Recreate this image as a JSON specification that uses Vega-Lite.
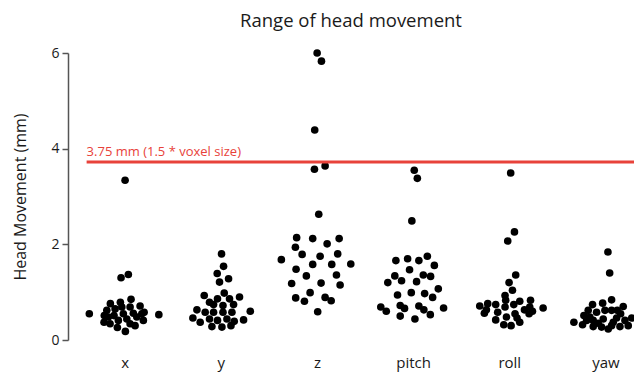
{
  "$schema": "https://vega.github.io/schema/vega-lite/v6.json",
  "autosize": "none",
  "padding": {"left": 68, "top": 53, "right": 0, "bottom": 36},
  "width": 566,
  "height": 287,
  "background": "white",
  "config": {
    "view": {"stroke": null},
    "font": "Open Sans",
    "axis": {"grid": false, "labelFont": "Open Sans", "titleFont": "Open Sans"}
  },
  "title": {
    "text": "Range of head movement",
    "fontSize": 18.5,
    "font": "Open Sans",
    "fontWeight": "normal",
    "color": "#1a1a1a",
    "anchor": "middle",
    "offset": 16
  },
  "datasets": {
    "threshold": [
      {"value": 3.72, "label": "3.75 mm (1.5 * voxel size)", "from": "x", "to": "yaw"}
    ],
    "points": [
      {"axis": "x", "value": 3.34, "dx": 0.0},
      {"axis": "x", "value": 1.37, "dx": 0.034},
      {"axis": "x", "value": 1.30, "dx": -0.042},
      {"axis": "x", "value": 0.55, "dx": -0.372},
      {"axis": "x", "value": 0.53, "dx": 0.351},
      {"axis": "x", "value": 0.76, "dx": -0.153},
      {"axis": "x", "value": 0.79, "dx": -0.049},
      {"axis": "x", "value": 0.85, "dx": 0.062},
      {"axis": "x", "value": 0.71, "dx": 0.156},
      {"axis": "x", "value": 0.62, "dx": -0.19},
      {"axis": "x", "value": 0.69, "dx": -0.034},
      {"axis": "x", "value": 0.69, "dx": 0.052},
      {"axis": "x", "value": 0.58, "dx": 0.198},
      {"axis": "x", "value": 0.51, "dx": -0.216},
      {"axis": "x", "value": 0.51, "dx": -0.115},
      {"axis": "x", "value": 0.55, "dx": -0.018},
      {"axis": "x", "value": 0.56, "dx": 0.086},
      {"axis": "x", "value": 0.55, "dx": 0.174},
      {"axis": "x", "value": 0.37, "dx": -0.219},
      {"axis": "x", "value": 0.34, "dx": -0.156},
      {"axis": "x", "value": 0.41, "dx": -0.07},
      {"axis": "x", "value": 0.44, "dx": 0.018},
      {"axis": "x", "value": 0.30, "dx": 0.104},
      {"axis": "x", "value": 0.41, "dx": 0.19},
      {"axis": "x", "value": 0.26, "dx": -0.08},
      {"axis": "x", "value": 0.18, "dx": 0.003},
      {"axis": "x", "value": 0.34, "dx": 0.052},
      {"axis": "x", "value": 0.48, "dx": -0.174},
      {"axis": "x", "value": 0.48, "dx": 0.122},
      {"axis": "x", "value": 0.65, "dx": -0.104},

      {"axis": "y", "value": 1.80, "dx": 0.003},
      {"axis": "y", "value": 1.54, "dx": 0.024},
      {"axis": "y", "value": 1.39, "dx": -0.042},
      {"axis": "y", "value": 1.28, "dx": 0.076},
      {"axis": "y", "value": 1.21, "dx": -0.018},
      {"axis": "y", "value": 0.93, "dx": -0.177},
      {"axis": "y", "value": 0.98, "dx": 0.031},
      {"axis": "y", "value": 0.90, "dx": 0.19},
      {"axis": "y", "value": 0.79, "dx": -0.122},
      {"axis": "y", "value": 0.86, "dx": -0.039},
      {"axis": "y", "value": 0.86, "dx": 0.086},
      {"axis": "y", "value": 0.74, "dx": 0.128},
      {"axis": "y", "value": 0.74, "dx": -0.08},
      {"axis": "y", "value": 0.72, "dx": 0.018},
      {"axis": "y", "value": 0.63, "dx": -0.253},
      {"axis": "y", "value": 0.58, "dx": -0.167},
      {"axis": "y", "value": 0.58, "dx": -0.08},
      {"axis": "y", "value": 0.58, "dx": 0.018},
      {"axis": "y", "value": 0.58, "dx": 0.111},
      {"axis": "y", "value": 0.60, "dx": 0.302},
      {"axis": "y", "value": 0.46, "dx": -0.295},
      {"axis": "y", "value": 0.37, "dx": -0.219},
      {"axis": "y", "value": 0.44, "dx": -0.122},
      {"axis": "y", "value": 0.41, "dx": -0.039},
      {"axis": "y", "value": 0.44, "dx": 0.059},
      {"axis": "y", "value": 0.39, "dx": 0.135},
      {"axis": "y", "value": 0.42, "dx": 0.232},
      {"axis": "y", "value": 0.28, "dx": -0.097},
      {"axis": "y", "value": 0.27, "dx": 0.007},
      {"axis": "y", "value": 0.30, "dx": 0.101},

      {"axis": "z", "value": 6.00, "dx": -0.003},
      {"axis": "z", "value": 5.83, "dx": 0.042},
      {"axis": "z", "value": 4.39, "dx": -0.028},
      {"axis": "z", "value": 3.64, "dx": 0.08},
      {"axis": "z", "value": 3.57, "dx": -0.031},
      {"axis": "z", "value": 2.63, "dx": 0.014},
      {"axis": "z", "value": 2.14, "dx": -0.216},
      {"axis": "z", "value": 2.12, "dx": -0.049},
      {"axis": "z", "value": 2.12, "dx": 0.226},
      {"axis": "z", "value": 2.01, "dx": 0.101},
      {"axis": "z", "value": 1.94, "dx": -0.229},
      {"axis": "z", "value": 1.79, "dx": -0.159},
      {"axis": "z", "value": 1.80, "dx": 0.211},
      {"axis": "z", "value": 1.75, "dx": 0.028},
      {"axis": "z", "value": 1.68, "dx": -0.375},
      {"axis": "z", "value": 1.58, "dx": -0.049},
      {"axis": "z", "value": 1.58, "dx": 0.149},
      {"axis": "z", "value": 1.59, "dx": 0.347},
      {"axis": "z", "value": 1.48, "dx": -0.222},
      {"axis": "z", "value": 1.34, "dx": -0.115},
      {"axis": "z", "value": 1.36, "dx": 0.198},
      {"axis": "z", "value": 1.18, "dx": -0.268},
      {"axis": "z", "value": 1.19, "dx": 0.038},
      {"axis": "z", "value": 1.15, "dx": 0.236},
      {"axis": "z", "value": 0.99, "dx": -0.076},
      {"axis": "z", "value": 0.88, "dx": -0.226},
      {"axis": "z", "value": 0.89, "dx": 0.08},
      {"axis": "z", "value": 0.81, "dx": -0.135},
      {"axis": "z", "value": 0.82, "dx": 0.143},
      {"axis": "z", "value": 0.59, "dx": 0.003},

      {"axis": "pitch", "value": 3.55, "dx": 0.007},
      {"axis": "pitch", "value": 3.38, "dx": 0.039},
      {"axis": "pitch", "value": 2.49, "dx": -0.018},
      {"axis": "pitch", "value": 1.66, "dx": -0.184},
      {"axis": "pitch", "value": 1.70, "dx": -0.062},
      {"axis": "pitch", "value": 1.66, "dx": 0.055},
      {"axis": "pitch", "value": 1.75, "dx": 0.143},
      {"axis": "pitch", "value": 1.56, "dx": 0.216},
      {"axis": "pitch", "value": 1.47, "dx": -0.042},
      {"axis": "pitch", "value": 1.34, "dx": -0.195},
      {"axis": "pitch", "value": 1.36, "dx": 0.101},
      {"axis": "pitch", "value": 1.33, "dx": 0.177},
      {"axis": "pitch", "value": 1.24, "dx": -0.125},
      {"axis": "pitch", "value": 1.20, "dx": -0.268},
      {"axis": "pitch", "value": 1.22, "dx": 0.031},
      {"axis": "pitch", "value": 1.07, "dx": 0.257},
      {"axis": "pitch", "value": 0.94, "dx": -0.167},
      {"axis": "pitch", "value": 0.99, "dx": -0.024},
      {"axis": "pitch", "value": 0.97, "dx": 0.115},
      {"axis": "pitch", "value": 0.89, "dx": 0.198},
      {"axis": "pitch", "value": 0.69, "dx": -0.341},
      {"axis": "pitch", "value": 0.60, "dx": -0.284},
      {"axis": "pitch", "value": 0.72, "dx": -0.139},
      {"axis": "pitch", "value": 0.66, "dx": -0.094},
      {"axis": "pitch", "value": 0.71, "dx": 0.055},
      {"axis": "pitch", "value": 0.63, "dx": 0.107},
      {"axis": "pitch", "value": 0.53, "dx": 0.174},
      {"axis": "pitch", "value": 0.67, "dx": 0.312},
      {"axis": "pitch", "value": 0.50, "dx": -0.139},
      {"axis": "pitch", "value": 0.44, "dx": 0.014},

      {"axis": "roll", "value": 3.49, "dx": 0.01},
      {"axis": "roll", "value": 2.26, "dx": 0.049},
      {"axis": "roll", "value": 2.07, "dx": -0.021},
      {"axis": "roll", "value": 1.36, "dx": 0.062},
      {"axis": "roll", "value": 1.20, "dx": -0.007},
      {"axis": "roll", "value": 1.04, "dx": 0.028},
      {"axis": "roll", "value": 0.93, "dx": -0.049},
      {"axis": "roll", "value": 0.83, "dx": -0.042},
      {"axis": "roll", "value": 0.71, "dx": -0.312},
      {"axis": "roll", "value": 0.76, "dx": -0.229},
      {"axis": "roll", "value": 0.74, "dx": -0.146},
      {"axis": "roll", "value": 0.74, "dx": 0.042},
      {"axis": "roll", "value": 0.81, "dx": 0.104},
      {"axis": "roll", "value": 0.83, "dx": 0.216},
      {"axis": "roll", "value": 0.69, "dx": 0.208},
      {"axis": "roll", "value": 0.67, "dx": 0.347},
      {"axis": "roll", "value": 0.63, "dx": 0.153},
      {"axis": "roll", "value": 0.60, "dx": 0.236},
      {"axis": "roll", "value": 0.55, "dx": 0.055},
      {"axis": "roll", "value": 0.48, "dx": -0.034},
      {"axis": "roll", "value": 0.46, "dx": 0.076},
      {"axis": "roll", "value": 0.37, "dx": 0.104},
      {"axis": "roll", "value": 0.32, "dx": -0.062},
      {"axis": "roll", "value": 0.30, "dx": 0.014},
      {"axis": "roll", "value": 0.58, "dx": -0.125},
      {"axis": "roll", "value": 0.69, "dx": -0.049},
      {"axis": "roll", "value": 0.55, "dx": 0.201},
      {"axis": "roll", "value": 0.56, "dx": -0.264},
      {"axis": "roll", "value": 0.42, "dx": -0.146},
      {"axis": "roll", "value": 0.63, "dx": -0.243},

      {"axis": "yaw", "value": 1.84, "dx": 0.021},
      {"axis": "yaw", "value": 1.40, "dx": 0.039},
      {"axis": "yaw", "value": 0.74, "dx": -0.139},
      {"axis": "yaw", "value": 0.77, "dx": -0.034},
      {"axis": "yaw", "value": 0.84, "dx": 0.059},
      {"axis": "yaw", "value": 0.70, "dx": 0.18},
      {"axis": "yaw", "value": 0.58, "dx": -0.097},
      {"axis": "yaw", "value": 0.62, "dx": 0.059},
      {"axis": "yaw", "value": 0.51, "dx": -0.229},
      {"axis": "yaw", "value": 0.55, "dx": 0.153},
      {"axis": "yaw", "value": 0.37, "dx": -0.333},
      {"axis": "yaw", "value": 0.32, "dx": -0.243},
      {"axis": "yaw", "value": 0.41, "dx": -0.132},
      {"axis": "yaw", "value": 0.44, "dx": -0.028},
      {"axis": "yaw", "value": 0.37, "dx": 0.076},
      {"axis": "yaw", "value": 0.41, "dx": 0.198},
      {"axis": "yaw", "value": 0.46, "dx": 0.268},
      {"axis": "yaw", "value": 0.28, "dx": -0.132},
      {"axis": "yaw", "value": 0.27, "dx": -0.045},
      {"axis": "yaw", "value": 0.23, "dx": 0.024},
      {"axis": "yaw", "value": 0.28, "dx": 0.146},
      {"axis": "yaw", "value": 0.62, "dx": -0.184},
      {"axis": "yaw", "value": 0.62, "dx": -0.01},
      {"axis": "yaw", "value": 0.62, "dx": 0.118},
      {"axis": "yaw", "value": 0.41, "dx": -0.201},
      {"axis": "yaw", "value": 0.35, "dx": -0.08},
      {"axis": "yaw", "value": 0.30, "dx": 0.232},
      {"axis": "yaw", "value": 0.30, "dx": 0.059},
      {"axis": "yaw", "value": 0.48, "dx": -0.167},
      {"axis": "yaw", "value": 0.46, "dx": 0.111}
    ]
  },
  "layer": [
    {
      "data": {"name": "points"},
      "mark": {"type": "circle", "size": 58, "color": "#000000", "opacity": 1},
      "encoding": {
        "x": {
          "field": "axis",
          "type": "nominal",
          "scale": {"domain": ["x", "y", "z", "pitch", "roll", "yaw"], "range": [9, 586], "paddingInner": 0, "paddingOuter": 0},
          "axis": {"title": null, "domain": false, "ticks": false, "labelAngle": 0, "labelFontSize": 15, "labelColor": "#1a1a1a", "labelPadding": 15}
        },
        "xOffset": {"field": "dx", "type": "quantitative", "scale": {"domain": [-0.5, 0.5]}},
        "y": {
          "field": "value",
          "type": "quantitative",
          "scale": {"domain": [0, 6], "nice": false, "zero": true},
          "axis": {
            "title": "Head Movement (mm)",
            "titleFontSize": 16,
            "titleFontWeight": "normal",
            "titleColor": "#1a1a1a",
            "titlePadding": 22,
            "values": [0, 2, 4, 6],
            "labelFontSize": 14,
            "labelColor": "#1a1a1a",
            "labelPadding": 3,
            "tickSize": 6,
            "tickColor": "#555555",
            "domainColor": "#555555",
            "domainWidth": 1.5,
            "tickWidth": 1.5
          }
        }
      }
    },
    {
      "data": {"name": "threshold"},
      "mark": {"type": "rule", "color": "#e8423a", "strokeWidth": 3, "clip": false},
      "encoding": {
        "y": {"field": "value", "type": "quantitative"},
        "x": {"field": "from", "type": "nominal", "bandPosition": 0.1},
        "x2": {"field": "to", "bandPosition": 1}
      }
    },
    {
      "data": {"name": "threshold"},
      "mark": {"type": "text", "color": "#e8423a", "align": "left", "baseline": "alphabetic", "dy": -6, "fontSize": 13, "font": "Open Sans"},
      "encoding": {
        "y": {"field": "value", "type": "quantitative"},
        "x": {"field": "from", "type": "nominal", "bandPosition": 0.1},
        "text": {"field": "label"}
      }
    }
  ]
}
